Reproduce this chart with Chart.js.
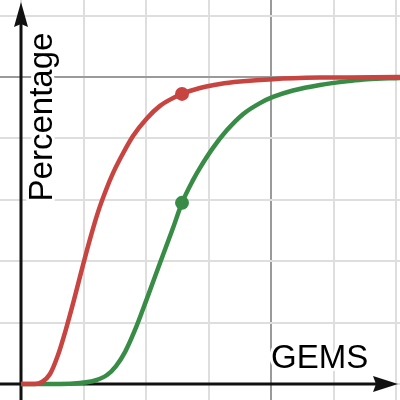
<!DOCTYPE html>
<html>
<head>
<meta charset="utf-8">
<script src="https://cdn.jsdelivr.net/npm/chart.js@4.4.0/dist/chart.umd.min.js"></script>
<style>
  html, body { margin: 0; padding: 0; background: #fff; }
  canvas { display: block; }
</style>
</head>
<body>
<canvas id="grafico" width="400" height="400"></canvas>
<script>
// Valores (x en divisiones de la rejilla, y en %)
const xRojo = [0, 0.224, 0.336, 0.464, 0.592, 0.72, 0.848, 0.976, 1.104, 1.232, 1.36, 1.472, 1.584, 1.792, 2.016, 2.224, 2.4, 2.576, 2.864, 3.184, 3.504, 4.032, 4.784, 6.064];
const yRojo = [0, 0, 0.65, 3.26, 9.45, 17.9, 27.4, 37.5, 47.2, 56.0, 63.2, 68.7, 73.3, 80.8, 86.6, 90.6, 92.8, 94.5, 96.4, 97.7, 98.5, 99.3, 99.8, 100];

const xVerde = [0, 0.624, 0.944, 1.184, 1.376, 1.52, 1.664, 1.824, 2.0, 2.224, 2.432, 2.576, 2.752, 2.864, 3.072, 3.296, 3.552, 3.824, 4.032, 4.352, 4.784, 5.264, 5.536, 6.064];
const yVerde = [0, 0, 0.33, 1.14, 2.93, 5.86, 10.4, 17.6, 27.0, 39.4, 50.8, 59.0, 66.4, 70.4, 76.9, 82.7, 87.9, 91.5, 93.5, 95.6, 97.4, 98.7, 99.25, 99.7];

const xPunto = 2.576;
const yPuntoRojo = 94.5;
const yPuntoVerde = 59.0;

const xTicks = [0, 1, 2, 3, 4, 5, 6];
const yTicks = [0, 20, 40, 60, 80, 100, 120];
const xMayor = 4;
const yMayor = 100;

const ROJO = "#c74440";
const VERDE = "#388c46";

const puntos = (xs, ys) => xs.map((x, i) => ({ x: x, y: ys[i] }));

const ejesDesmos = {
    id: "ejesDesmos",
    beforeDatasetsDraw(chart) {
        const ctx = chart.ctx;
        const sx = chart.scales.x, sy = chart.scales.y;
        const x0 = sx.getPixelForValue(0);
        const y0 = sy.getPixelForValue(0);

        // etiquetas con halo blanco
        ctx.save();
        ctx.font = "33px 'Liberation Sans', Arial, sans-serif";
        ctx.lineJoin = "round";
        ctx.lineWidth = 6;
        ctx.strokeStyle = "#fff";
        ctx.fillStyle = "#000";
        ctx.textBaseline = "alphabetic";
        ctx.textAlign = "left";
        ctx.strokeText("GEMS", 271, 368);
        ctx.fillText("GEMS", 271, 368);

        ctx.translate(52, 117);
        ctx.rotate(-Math.PI / 2);
        ctx.textAlign = "center";
        ctx.strokeText("Percentage", 0, 0);
        ctx.fillText("Percentage", 0, 0);
        ctx.restore();

        // ejes con flechas
        ctx.save();
        ctx.strokeStyle = "#111";
        ctx.fillStyle = "#111";
        ctx.lineWidth = 3;
        ctx.beginPath();
        ctx.moveTo(x0, 400);
        ctx.lineTo(x0, 20);
        ctx.moveTo(0, y0);
        ctx.lineTo(380, y0);
        ctx.stroke();

        ctx.beginPath();
        ctx.moveTo(x0, 2);
        ctx.lineTo(x0 + 7, 27);
        ctx.lineTo(x0, 24);
        ctx.lineTo(x0 - 7, 27);
        ctx.closePath();
        ctx.fill();

        ctx.beginPath();
        ctx.moveTo(398, y0);
        ctx.lineTo(373, y0 - 8);
        ctx.lineTo(376, y0);
        ctx.lineTo(373, y0 + 8);
        ctx.closePath();
        ctx.fill();
        ctx.restore();
    }
};

function colorRejilla(mayor) {
    return c => (c.tick && c.tick.value === mayor) ? "#9a9a9a" : "#dedede";
}

new Chart(document.getElementById("grafico"), {
    type: "scatter",
    data: {
        datasets: [
            {
                data: puntos(xRojo, yRojo),
                showLine: true,
                borderColor: ROJO,
                borderWidth: 4.5,
                pointRadius: 0,
                cubicInterpolationMode: "monotone"
            },
            {
                data: puntos(xVerde, yVerde),
                showLine: true,
                borderColor: VERDE,
                borderWidth: 4.5,
                pointRadius: 0,
                cubicInterpolationMode: "monotone"
            },
            {
                data: [{ x: xPunto, y: yPuntoRojo }],
                pointRadius: 7,
                pointBackgroundColor: ROJO,
                pointBorderWidth: 0
            },
            {
                data: [{ x: xPunto, y: yPuntoVerde }],
                pointRadius: 7,
                pointBackgroundColor: VERDE,
                pointBorderWidth: 0
            }
        ]
    },
    options: {
        responsive: false,
        animation: false,
        layout: { padding: 0, autoPadding: false },
        plugins: { legend: { display: false }, tooltip: { enabled: false } },
        scales: {
            x: {
                type: "linear",
                min: -0.336,
                max: 6.064,
                afterBuildTicks: s => { s.ticks = xTicks.map(v => ({ value: v })); },
                ticks: { display: false },
                border: { display: false },
                grid: { color: colorRejilla(xMayor), lineWidth: 2, drawTicks: false }
            },
            y: {
                type: "linear",
                min: -5.21,
                max: 125.08,
                afterBuildTicks: s => { s.ticks = yTicks.map(v => ({ value: v })); },
                ticks: { display: false },
                border: { display: false },
                grid: { color: colorRejilla(yMayor), lineWidth: 2, drawTicks: false }
            }
        }
    },
    plugins: [ejesDesmos]
});
</script>
</body>
</html>
